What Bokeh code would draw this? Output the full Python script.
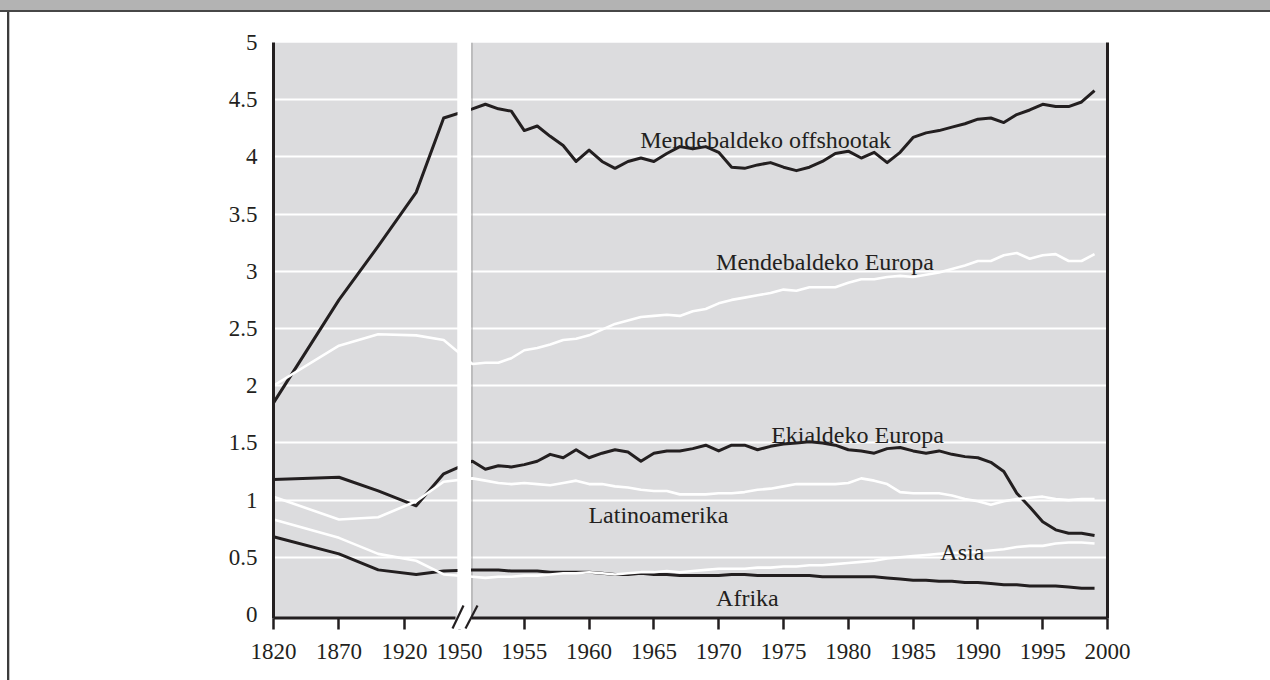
from bokeh.plotting import figure
from bokeh.models import (Range1d, FixedTicker, LinearAxis, Label, Grid, Spacer)
from bokeh.layouts import column, row
from bokeh.embed import file_html
from bokeh.resources import INLINE

# ---------------- data (ratio of regional GDP per capita to world average) -------------
early_years = [1820, 1870, 1900, 1929, 1950]          # compressed segment of the axis
late_years = list(range(1951, 2000))                   # annual segment of the axis

offshoots_early = [1.85, 2.75, 3.22, 3.69, 4.34]
offshoots_late = [4.42, 4.46, 4.42, 4.40, 4.23, 4.27, 4.18, 4.10, 3.96, 4.06,
                  3.96, 3.90, 3.96, 3.99, 3.96, 4.03, 4.09, 4.07, 4.09, 4.04,
                  3.91, 3.90, 3.93, 3.95, 3.91, 3.88, 3.91, 3.96, 4.03, 4.05,
                  3.99, 4.04, 3.95, 4.04, 4.17, 4.21, 4.23, 4.26, 4.29, 4.33,
                  4.34, 4.30, 4.37, 4.41, 4.46, 4.44, 4.44, 4.48, 4.58]

weurope_early = [2.00, 2.35, 2.45, 2.44, 2.40]
weurope_late = [2.19, 2.20, 2.20, 2.24, 2.31, 2.33, 2.36, 2.40, 2.41, 2.44,
                2.49, 2.54, 2.57, 2.60, 2.61, 2.62, 2.61, 2.65, 2.67, 2.72,
                2.75, 2.77, 2.79, 2.81, 2.84, 2.83, 2.86, 2.86, 2.86, 2.90,
                2.93, 2.93, 2.95, 2.96, 2.95, 2.97, 2.99, 3.02, 3.05, 3.09,
                3.09, 3.14, 3.16, 3.11, 3.14, 3.15, 3.09, 3.09, 3.15]

eeurope_early = [1.18, 1.20, 1.08, 0.95, 1.23]
eeurope_late = [1.34, 1.27, 1.30, 1.29, 1.31, 1.34, 1.40, 1.37, 1.44, 1.37,
                1.41, 1.44, 1.42, 1.34, 1.41, 1.43, 1.43, 1.45, 1.48, 1.43,
                1.48, 1.48, 1.44, 1.47, 1.49, 1.50, 1.51, 1.50, 1.48, 1.44,
                1.43, 1.41, 1.45, 1.46, 1.43, 1.41, 1.43, 1.40, 1.38, 1.37,
                1.33, 1.25, 1.06, 0.94, 0.81, 0.74, 0.71, 0.71, 0.69]

latam_early = [1.03, 0.83, 0.85, 0.99, 1.16]
latam_late = [1.19, 1.17, 1.15, 1.14, 1.15, 1.14, 1.13, 1.15, 1.17, 1.14,
              1.14, 1.12, 1.11, 1.09, 1.08, 1.08, 1.05, 1.05, 1.05, 1.06,
              1.06, 1.07, 1.09, 1.10, 1.12, 1.14, 1.14, 1.14, 1.14, 1.15,
              1.19, 1.17, 1.14, 1.07, 1.06, 1.06, 1.06, 1.04, 1.01, 0.99,
              0.96, 0.99, 1.01, 1.02, 1.03, 1.01, 1.00, 1.01, 1.01]

asia_early = [0.83, 0.67, 0.53, 0.47, 0.35]
asia_late = [0.33, 0.32, 0.33, 0.33, 0.34, 0.34, 0.35, 0.36, 0.36, 0.37,
             0.36, 0.35, 0.36, 0.37, 0.37, 0.38, 0.37, 0.38, 0.39, 0.40,
             0.40, 0.40, 0.41, 0.41, 0.42, 0.42, 0.43, 0.43, 0.44, 0.45,
             0.46, 0.47, 0.49, 0.50, 0.51, 0.52, 0.53, 0.54, 0.54, 0.55,
             0.56, 0.57, 0.59, 0.60, 0.60, 0.62, 0.63, 0.63, 0.62]

africa_early = [0.68, 0.53, 0.39, 0.35, 0.38]
africa_late = [0.39, 0.39, 0.39, 0.38, 0.38, 0.38, 0.37, 0.37, 0.37, 0.37,
               0.36, 0.35, 0.35, 0.36, 0.35, 0.35, 0.34, 0.34, 0.34, 0.34,
               0.35, 0.35, 0.34, 0.34, 0.34, 0.34, 0.34, 0.33, 0.33, 0.33,
               0.33, 0.33, 0.32, 0.31, 0.30, 0.30, 0.29, 0.29, 0.28, 0.28,
               0.27, 0.26, 0.26, 0.25, 0.25, 0.25, 0.24, 0.23, 0.23]

x_tick_years_early = [1820, 1870, 1920]
x_tick_years_late = [1950, 1955, 1960, 1965, 1970, 1975, 1980, 1985, 1990, 1995, 2000]
y_ticks = [0, 0.5, 1, 1.5, 2, 2.5, 3, 3.5, 4, 4.5, 5]
y_tick_labels = ["0", "0.5", "1", "1.5", "2", "2.5", "3", "3.5", "4", "4.5", "5"]

series = [  # (label, early values, late values, colour)
    ("Mendebaldeko offshootak", offshoots_early, offshoots_late, "black"),
    ("Ekialdeko Europa", eeurope_early, eeurope_late, "black"),
    ("Afrika", africa_early, africa_late, "black"),
    ("Mendebaldeko Europa", weurope_early, weurope_late, "white"),
    ("Latinoamerika", latam_early, latam_late, "white"),
    ("Asia", asia_early, asia_late, "white"),
]

# --------------- page geometry (px) ------------------------------------------------
W, H = 1270, 680
HEAD_H, HEAD_LINE = 10, 2                # grey header band + dark rule
B_WHITE, B_DARK, B_LIGHT = 7, 2, 1       # left page border
OX = B_WHITE + B_DARK + B_LIGHT
OY = HEAD_H + HEAD_LINE
FL, FR, FT, FB = 273, 1107, 42, 629      # plot frame on the page
AXIS_PX = 617.5                          # x axis line
ZERO_PX = 614                            # value 0

# --------------- broken time scale -------------------------------------------------
X_START = 1935.65     # axis position of 1820 (start of compressed segment)
EARLY_RATE = 0.101    # axis units per year in the compressed 1820-1950 segment
X_END = 2000
Y_END = 5.0
Y_START = -(FB - ZERO_PX) * Y_END / (ZERO_PX - FT)


def early_pos(year):
    return X_START + (year - 1820) * EARLY_RATE


def px_x(px):   # page pixel -> x data (for decorations only)
    return X_START + (px - FL) * (X_END - X_START) / (FR - FL)


def px_y(py):   # page pixel -> y data (for decorations only)
    return Y_START + (FB - py) * (Y_END - Y_START) / (FB - FT)


INK = "#231f20"
BG = "#dcdcde"
FONT = "Liberation Serif"
Y_AX = px_y(AXIS_PX)
GAP_L, GAP_R = px_x(457), px_x(470.5)

fig = figure(width=W - OX, height=H - OY, output_backend="svg", toolbar_location=None,
             x_range=Range1d(X_START, X_END), y_range=Range1d(Y_START, Y_END),
             x_axis_type=None, y_axis_type=None,
             min_border_left=FL - OX, min_border_right=W - FR, min_border_top=FT - OY,
             min_border_bottom=H - FB)
fig.background_fill_color = "white"
fig.border_fill_color = "white"
fig.outline_line_color = None

# grey plotting panels either side of the break
fig.quad(left=[X_START, GAP_R], right=[GAP_L, X_END], bottom=Y_AX, top=Y_END,
         fill_color=BG, line_alpha=0, level="image")

fig.add_layout(Grid(dimension=1, ticker=FixedTicker(ticks=y_ticks[1:]),
                    grid_line_color="white", grid_line_width=2))

# axes
xt_pos = [early_pos(y) for y in x_tick_years_early] + list(x_tick_years_late)
xt_lab = [str(y) for y in x_tick_years_early + x_tick_years_late]
xaxis = LinearAxis(ticker=FixedTicker(ticks=xt_pos),
                   major_label_overrides=dict(zip(xt_pos, xt_lab)),
                   axis_line_alpha=0,
                   major_tick_out=0, major_tick_in=11, major_tick_line_width=2.5,
                   major_tick_line_color=INK, minor_tick_out=0, minor_tick_in=0,
                   major_label_text_font=FONT, major_label_text_font_size="23px",
                   major_label_text_color=INK, major_label_standoff=14)
fig.add_layout(xaxis, "below")

yaxis = LinearAxis(ticker=FixedTicker(ticks=y_ticks), bounds=(Y_AX, Y_END),
                   major_label_overrides=dict(zip(y_ticks, y_tick_labels)),
                   axis_line_width=3, axis_line_color=INK,
                   major_tick_out=0, major_tick_in=0, minor_tick_out=0, minor_tick_in=0,
                   major_label_text_font=FONT, major_label_text_font_size="23px",
                   major_label_text_color=INK, major_label_standoff=16)
fig.add_layout(yaxis, "left")

raxis = LinearAxis(ticker=FixedTicker(ticks=[]), bounds=(Y_AX, Y_END),
                   axis_line_width=3, axis_line_color=INK,
                   major_tick_out=0, major_tick_in=0, minor_tick_out=0, minor_tick_in=0)
fig.add_layout(raxis, "right")

# thin rule at the start of the annual segment
fig.segment(x0=[px_x(471.5)], y0=[Y_AX], x1=[px_x(471.5)], y1=[Y_END],
            line_color="#9d9d9d", line_width=1)

# series lines: black first, white on top
for name, early, late, col in series:
    xs = [early_pos(y) for y in early_years] + late_years
    ys = list(early) + list(late)
    fig.line(xs, ys, line_color=INK if col == "black" else "white",
             line_width=3 if col == "black" else 2.6, line_join="round")

# the break: white gap, x axis line in two pieces, and the two slashes
fig.quad(left=[GAP_L], right=[GAP_R], bottom=Y_START, top=Y_END,
         fill_color="white", line_alpha=0, level="overlay")
fig.segment(x0=[X_START, px_x(471)], y0=[Y_AX, Y_AX], x1=[px_x(455), X_END],
            y1=[Y_AX, Y_AX], line_color=INK, line_width=3, level="overlay")
fig.segment(x0=[px_x(452), px_x(465)], y0=[px_y(628)] * 2,
            x1=[px_x(463), px_x(477)], y1=[px_y(605)] * 2,
            line_color=INK, line_width=2.2, level="overlay")

# series names
labels = [("Mendebaldeko offshootak", 1963.95, 4.15),
          ("Mendebaldeko Europa", 1969.8, 3.08),
          ("Ekialdeko Europa", 1974.05, 1.57),
          ("Latinoamerika", 1959.95, 0.866),
          ("Asia", 1987.1, 0.542),
          ("Afrika", 1969.8, 0.14)]
for txt, lx, ly in labels:
    fig.add_layout(Label(x=lx, y=ly, text=txt, text_font=FONT, text_font_size="24px",
                         text_color=INK, text_baseline="alphabetic"))


def band(w, h, color):
    return Spacer(width=w, height=h, margin=0, styles={"background-color": color})


p = column(band(W, HEAD_H, "#b3b3b3"), band(W, HEAD_LINE, "#474747"),
           row(band(B_WHITE, H - OY, "white"), band(B_DARK, H - OY, "#3c3c3c"),
               band(B_LIGHT, H - OY, "#c4c4c4"), fig, spacing=0),
           spacing=0)

open("out.html", "w").write(file_html(p, INLINE))
